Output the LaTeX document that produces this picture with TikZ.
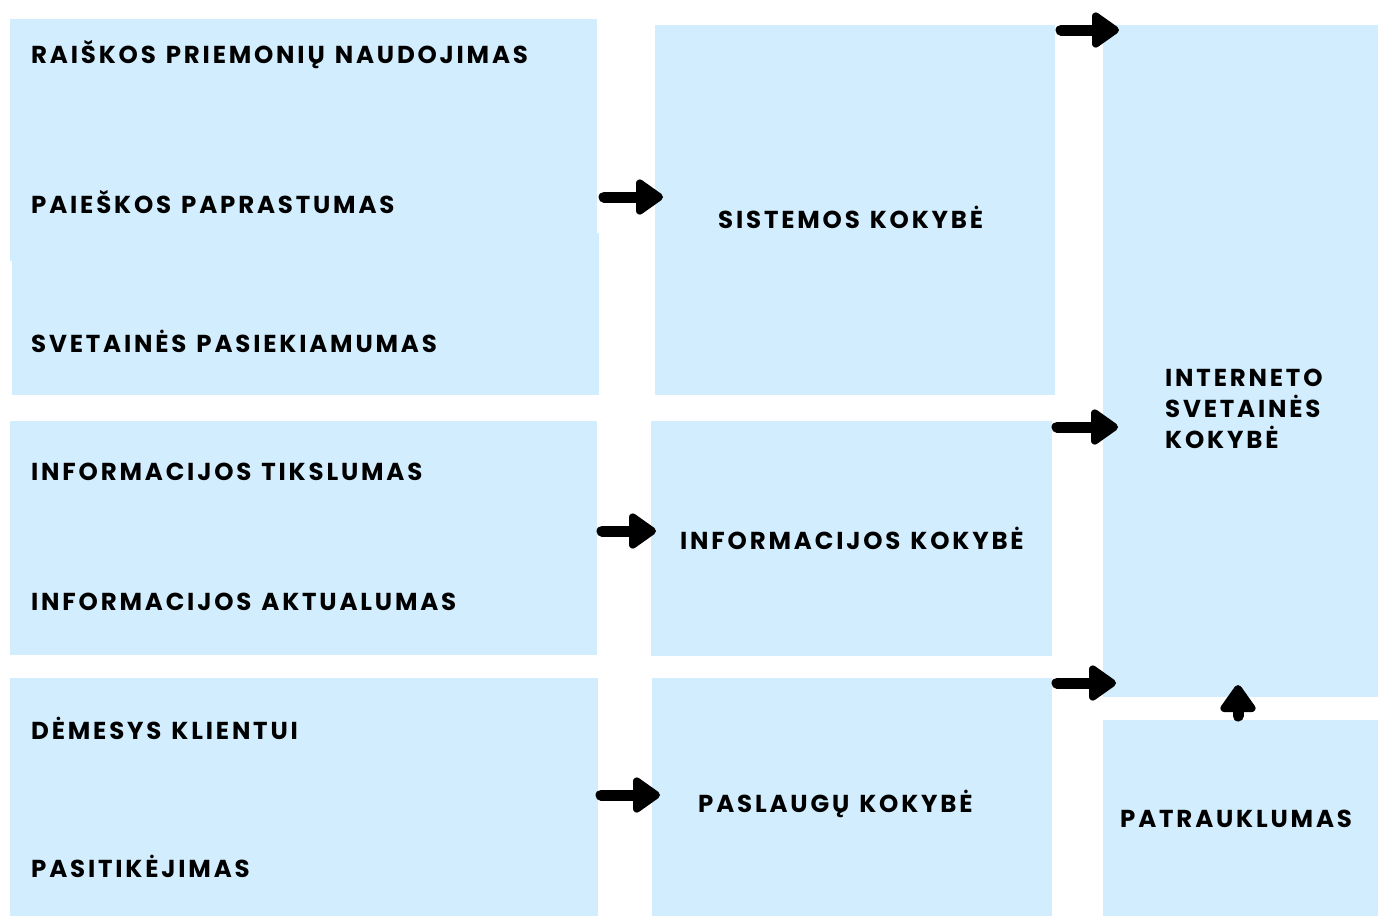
\documentclass[tikz,border=0pt]{standalone}
\usepackage{fontspec}
\setmainfont{Poppins}[UprightFont=* Bold, LetterSpace=11.5, WordSpace=1.25]
\usetikzlibrary{arrows.meta}
\definecolor{boxblue}{RGB}{210,238,254}
\tikzset{
  panel/.style={fill=boxblue, draw=none},
  lbl/.style={anchor=west, inner sep=0pt, font=\fontsize{24.5}{31}\selectfont, text=black, align=left},
  fatarrow/.style={line width=11pt, line cap=round, -{Triangle[length=30pt,width=40pt,round]}}
}
\begin{document}
\begin{tikzpicture}[x=1pt,y=-1pt]
\useasboundingbox (0,0) rectangle (1378,916);
% panels
\fill[panel] (10,19) rectangle (597,261);
\fill[panel] (12,233) rectangle (599,395);
\fill[panel] (10,421) rectangle (597,655);
\fill[panel] (10,678) rectangle (598,916);
\fill[panel] (655,25) rectangle (1055,395);
\fill[panel] (651,421) rectangle (1052,656);
\fill[panel] (652,678) rectangle (1052,916);
\fill[panel] (1103,25) rectangle (1378,697);
\fill[panel] (1103,720) rectangle (1378,916);
% labels
\node[lbl] (t1) at (31,55) {RAIŠKOS PRIEMONIŲ NAUDOJIMAS};
\node[lbl] (t2) at (31,202) {PAIEŠKOS PAPRASTUMAS};
\node[lbl] (t3) at (31,341) {SVETAINĖS PASIEKIAMUMAS};
\node[lbl] (s1) at (718,217) {SISTEMOS KOKYBĖ};
\node[lbl] (t4) at (31,472) {INFORMACIJOS TIKSLUMAS};
\node[lbl] (t5) at (31,602) {INFORMACIJOS AKTUALUMAS};
\node[lbl] (s2) at (680,538) {INFORMACIJOS KOKYBĖ};
\node[lbl] (t6) at (31,728) {DĖMESYS KLIENTUI};
\node[lbl] (t7) at (31,866) {PASITIKĖJIMAS};
\node[lbl] (s3) at (698,804) {PASLAUGŲ KOKYBĖ};
\node[lbl] (q) at (1165,409) {INTERNETO\\SVETAINĖS\\KOKYBĖ};
\node[lbl] (p) at (1120,819) {PATRAUKLUMAS};
% arrow end points
\coordinate (a1s) at (604,197); \coordinate (a1e) at (663,197);
\coordinate (a2s) at (1061,30); \coordinate (a2e) at (1119,30);
\coordinate (a3s) at (1057,427); \coordinate (a3e) at (1118,427);
\coordinate (a4s) at (602,531); \coordinate (a4e) at (656,531);
\coordinate (a5s) at (601,795); \coordinate (a5e) at (660,795);
\coordinate (a6s) at (1057,683); \coordinate (a6e) at (1116,683);
\coordinate (a7s) at (1238,716); \coordinate (a7e) at (1238,685);
\draw[fatarrow] (a1s) -- (a1e);
\draw[fatarrow] (a2s) -- (a2e);
\draw[fatarrow] (a3s) -- (a3e);
\draw[fatarrow] (a4s) -- (a4e);
\draw[fatarrow] (a5s) -- (a5e);
\draw[fatarrow] (a6s) -- (a6e);
\draw[fatarrow] (a7s) -- (a7e);
\end{tikzpicture}
\end{document}
